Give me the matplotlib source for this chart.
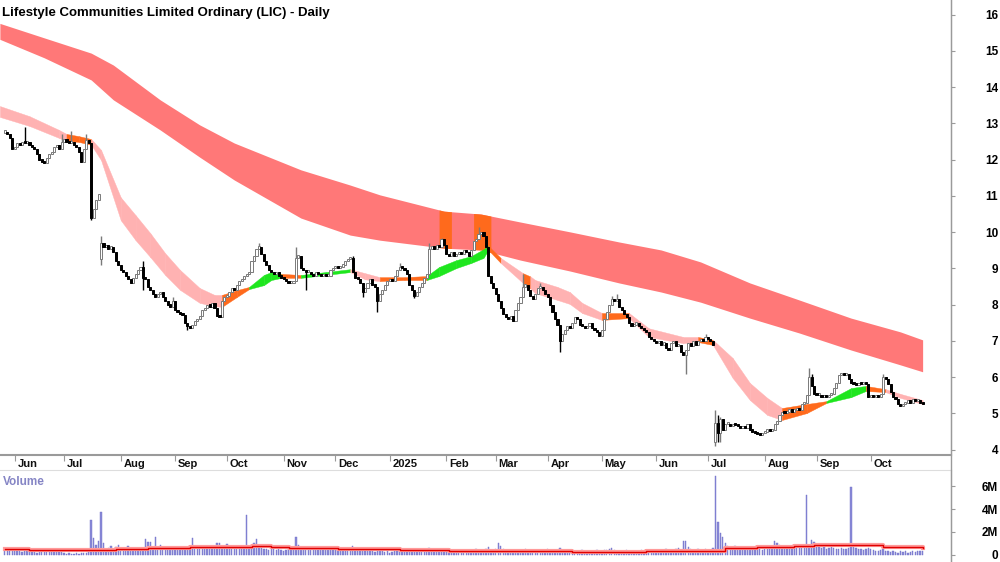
import numpy as np
import pandas as pd
import matplotlib
matplotlib.use("Agg")
import matplotlib.pyplot as plt
from matplotlib.lines import Line2D

plt.rcParams["font.family"] = ["Liberation Sans", "DejaVu Sans"]
plt.rcParams["font.weight"] = "bold"

title = "Lifestyle Communities Limited Ordinary (LIC) - Daily"
dates = pd.bdate_range("2024-05-28", "2025-10-30")

# daily closes
closes = [
    12.75, 12.7, 12.6, 12.3, 12.35, 12.45, 12.4, 12.5, 12.45, 12.5,
    12.4, 12.35, 12.3, 12.15, 12.0, 11.95, 11.9, 12.05, 12.15, 12.2,
    12.35, 12.4, 12.3, 12.5, 12.55, 12.5, 12.45, 12.5, 12.4, 12.35,
    12.2, 11.95, 12.3, 12.55, 12.45, 10.4, 10.65, 10.9, 11.05, 9.7,
    9.6, 9.65, 9.55, 9.6, 9.45, 9.2, 9.1, 8.95, 8.9, 8.8,
    8.7, 8.6, 8.75, 8.85, 8.95, 9.05, 8.75, 8.7, 8.5, 8.4,
    8.3, 8.2, 8.3, 8.35, 8.2, 8.1, 8.0, 7.95, 8.1, 7.85,
    7.8, 7.75, 7.72, 7.5, 7.4, 7.35, 7.45, 7.55, 7.6, 7.7,
    7.85, 7.9, 8.0, 7.95, 8.05, 7.9, 7.7, 7.65, 8.1, 8.2,
    8.25, 8.35, 8.45, 8.4, 8.55, 8.65, 8.7, 8.8, 8.85, 8.9,
    9.2, 9.35, 9.55, 9.6, 9.4, 9.2, 9.1, 8.95, 8.9, 8.85,
    8.9, 8.8, 8.75, 8.7, 8.65, 8.6, 8.6, 8.65, 9.3, 9.35,
    9.0, 8.95, 8.9, 8.9, 8.85, 8.8, 8.9, 8.85, 8.8, 8.85,
    8.8, 8.8, 8.95, 9.0, 9.05, 9.0, 9.05, 9.1, 9.2, 9.25,
    9.3, 8.9, 8.75, 8.7, 8.6, 8.35, 8.45, 8.6, 8.7, 8.55,
    8.5, 8.1, 8.3, 8.4, 8.55, 8.65, 8.7, 8.65, 8.8, 8.95,
    9.05, 9.0, 8.95, 8.85, 8.55, 8.4, 8.25, 8.35, 8.5, 8.6,
    8.75, 8.85, 9.55, 9.6, 9.55, 9.65, 9.6, 9.8, 9.65, 9.4,
    9.35, 9.45, 9.35, 9.4, 9.45, 9.4, 9.5, 9.45, 9.35, 9.5,
    9.75, 9.8, 9.95, 10.0, 9.9, 9.6, 8.8, 8.6, 8.45, 8.3,
    8.1, 7.9, 7.75, 7.65, 7.6, 7.7, 7.55, 7.85, 8.05, 8.2,
    8.5, 8.55, 8.4, 8.25, 8.15, 8.3, 8.45, 8.5, 8.4, 8.3,
    8.2, 8.0, 7.8, 7.6, 7.45, 7.0, 7.2, 7.3, 7.4, 7.35,
    7.5, 7.65, 7.6, 7.45, 7.4, 7.35, 7.4, 7.5, 7.35, 7.3,
    7.25, 7.15, 7.3, 7.6, 7.8, 8.0, 8.15, 8.1, 8.15, 7.95,
    7.85, 7.75, 7.65, 7.5, 7.4, 7.45, 7.5, 7.4, 7.35, 7.3,
    7.25, 7.1, 7.05, 7.0, 6.95, 7.0, 6.9, 6.95, 6.8, 6.75,
    6.95, 7.0, 6.85, 6.9, 6.7, 6.6, 6.75, 6.95, 6.85, 7.0,
    6.9, 7.0, 7.05, 7.0, 7.1, 7.05, 7.0, 6.9, 4.75, 4.45,
    4.85, 4.55, 4.7, 4.7, 4.65, 4.7, 4.68, 4.65, 4.6, 4.62,
    4.6, 4.7, 4.55, 4.5, 4.45, 4.42, 4.4, 4.45, 4.5, 4.55,
    4.52, 4.55, 4.7, 4.8, 4.95, 5.05, 5.0, 5.05, 5.1, 5.05,
    5.1, 5.15, 5.1, 5.25, 5.3, 5.5, 6.0, 5.75, 5.55, 5.5,
    5.5, 5.45, 5.5, 5.45, 5.5, 5.55, 5.7, 5.85, 6.05, 6.1,
    6.05, 6.1, 5.95, 5.85, 5.8, 5.78, 5.85, 5.8, 5.85, 5.8,
    5.45, 5.5, 5.45, 5.5, 5.45, 5.55, 6.0, 5.95, 5.8, 5.6,
    5.45, 5.4, 5.25, 5.2, 5.25, 5.3, 5.35, 5.3, 5.4, 5.35,
    5.35, 5.3, 5.25,
]
# opens follow the previous close except on gap days
gap_opens = {39: 9.25, 288: 4.2}
# notable wicks (day index -> price)
highs = {8: 12.9, 23: 12.7, 27: 12.8, 33: 12.7, 35: 12.45, 39: 9.9, 56: 9.2,
         68: 8.2, 103: 9.7, 118: 9.6, 141: 9.35, 160: 9.15, 172: 9.7, 177: 9.85,
         192: 10.14, 210: 8.85, 217: 8.6, 246: 8.25, 248: 8.3, 284: 7.2,
         288: 5.1, 289: 4.95, 290: 4.9, 326: 6.25, 327: 6.1, 356: 6.1}
lows = {35: 10.33, 39: 9.1, 56: 8.4, 74: 7.3, 122: 8.4, 145: 8.2, 151: 7.8,
        166: 8.18, 225: 6.7, 276: 6.1, 288: 4.1, 289: 4.2, 290: 4.2}

# volume, millions
volume = [
    0.6, 0.35, 0.3, 0.5, 0.3, 0.35, 0.3, 0.25, 0.3, 0.35,
    0.3, 0.25, 0.3, 0.2, 0.3, 0.45, 0.3, 0.35, 0.3, 0.3,
    0.35, 0.3, 0.25, 0.3, 0.15, 0.1, 0.15, 0.1, 0.12, 0.15,
    0.1, 0.2, 0.15, 0.2, 0.3,
    3.0, 1.45, 0.9, 1.2, 3.75, 1.0, 0.5, 0.6, 0.8, 0.45,
    0.7, 0.9, 0.5, 0.35, 0.45, 0.8, 0.4, 0.5, 0.35, 0.6,
    0.4, 0.5, 1.35, 1.1, 1.1, 0.6, 1.6, 0.7, 0.9, 0.5,
    0.6, 0.45, 0.5, 0.6, 0.4,
    0.5, 0.45, 0.6, 0.5, 0.55, 0.5, 1.5, 0.6, 0.55, 0.5,
    0.6, 0.7, 0.5, 0.6, 0.5, 0.7, 1.0, 1.0, 0.6, 0.7,
    0.95, 0.6, 0.5, 0.7, 0.8, 0.6, 0.5, 0.6, 3.5, 0.8,
    0.7, 1.0, 1.35, 0.9, 0.6,
    0.5, 0.5, 0.4, 0.6, 0.5, 0.4, 0.5, 0.4, 0.35, 0.4,
    0.5, 0.4, 0.6, 1.6, 0.9, 0.6, 0.5, 0.6, 0.5, 0.7,
    0.5, 0.6, 0.4, 0.5, 0.45, 0.5, 0.6, 0.5, 0.4, 0.5,
    0.45, 0.4, 0.5, 0.35, 0.4,
    0.45, 0.8, 0.4, 0.35, 0.3, 0.5, 0.3, 0.4, 0.35, 0.3,
    0.25, 0.3, 0.4, 0.3, 0.25, 0.3, 0.2, 0.25, 0.3, 0.35,
    0.3, 0.4, 0.3, 0.25, 0.35, 0.3, 0.4, 0.3, 0.25, 0.3,
    0.35, 0.3, 0.6, 0.4, 0.35,
    0.3, 0.4, 0.5, 0.35, 0.3, 0.4, 0.3, 0.35, 0.3, 0.25,
    0.3, 0.4, 0.3, 0.35, 0.3, 0.4, 0.5, 0.45, 0.35, 0.4,
    0.5, 0.7, 0.45, 0.4, 0.5, 1.0, 0.8, 0.5, 0.4, 0.45,
    0.35, 0.4, 0.3, 0.35, 0.4,
    0.45, 0.5, 0.35, 0.3, 0.4, 0.3, 0.35, 0.25, 0.3, 0.35,
    0.5, 0.4, 0.35, 0.45, 0.3, 0.6, 0.4, 0.3, 0.35, 0.3,
    0.25, 0.3, 0.35, 0.3, 0.4, 0.3, 0.25, 0.3, 0.35, 0.3,
    0.4, 0.3, 0.35, 0.45, 0.4,
    0.5, 0.6, 0.4, 0.35, 0.3, 0.35, 0.3, 0.4, 0.3, 0.25,
    0.3, 0.35, 0.3, 0.4, 0.3, 0.35, 0.3, 0.35, 0.3, 0.4,
    0.35, 0.3, 0.4, 0.5, 0.35, 0.3, 0.4, 0.5, 0.6, 0.45,
    1.2, 1.25, 0.7, 0.5, 0.4,
    0.45, 0.5, 0.4, 0.45, 0.5, 0.4, 0.45, 0.6, 6.9, 2.9,
    1.9, 1.6, 1.0, 0.8, 0.7, 0.6, 0.8, 0.55, 0.6, 0.5,
    0.7, 0.6, 0.5, 0.55, 0.45, 0.6, 0.5, 0.45, 0.5, 0.6,
    0.55, 0.6, 1.2, 1.0, 0.9,
    0.7, 0.6, 0.5, 0.65, 0.55, 0.6, 0.7, 0.6, 0.8, 0.9,
    5.2, 0.9, 1.3, 1.1, 0.9, 0.7, 0.6, 0.65, 0.5, 0.6,
    0.7, 0.6, 0.55, 0.5, 0.6, 0.55, 0.5, 0.6, 5.9, 0.8,
    0.6, 0.5, 0.55, 0.45, 0.5,
    0.6, 0.5, 0.4, 0.35, 0.3, 0.4, 0.5, 0.35, 0.3, 0.25,
    0.3, 0.25, 0.2, 0.3, 0.25, 0.3, 0.2, 0.25, 0.3, 0.25,
    0.3, 0.35, 0.3,
]

# volume moving average, sampled (day index, millions)
vma_idx = [0, 10, 25, 35, 45, 58, 75, 90, 100, 108, 115, 125, 135, 148, 160,
           180, 200, 230, 260, 287, 292, 305, 320, 328, 345, 352, 356, 372]
vma = [0.54, 0.45, 0.39, 0.42, 0.5, 0.62, 0.66, 0.72, 0.76, 0.7, 0.64, 0.6,
       0.55, 0.48, 0.4, 0.32, 0.3, 0.28, 0.3, 0.35, 0.6, 0.65, 0.75, 0.85,
       0.9, 0.85, 0.7, 0.62]

# long-term band (day index, top, bottom); it runs in from before the first day
ub_idx = [-2, 16, 35, 44, 63, 79, 93, 120, 140, 152, 178, 193, 209, 229, 249,
          266, 282, 302, 322, 343, 363, 372]
ub_top = [15.76, 15.36, 14.94, 14.61, 13.65, 12.96, 12.46, 11.72, 11.30,
          11.03, 10.58, 10.50, 10.28, 10.01, 9.73, 9.51, 9.18, 8.60, 8.13,
          7.63, 7.25, 7.03]
ub_bot = [15.32, 14.81, 14.20, 13.65, 12.82, 12.07, 11.44, 10.39, 9.92, 9.78,
          9.56, 9.51, 9.23, 8.93, 8.60, 8.35, 8.07, 7.63, 7.22, 6.75, 6.34,
          6.15]
ub_orange_spans = [(176, 181), (190, 197)]

# short-term band (day index, top, bottom, state of following segment)
lb_idx = [-2, 10, 22, 25, 30, 35, 39, 47, 53, 59, 65, 71, 79, 85, 88, 94, 99,
          105, 108, 112, 120, 130, 140, 146, 152, 162, 171, 176, 183, 189,
          194, 196, 201, 210, 213, 215, 224, 229, 234, 242, 253, 261, 275,
          281, 287, 295, 302, 309, 315, 325, 333, 343, 349, 357, 363, 372]
lb_top = [13.48, 13.20, 12.82, 12.71, 12.65, 12.57, 12.27, 10.96, 10.47, 9.97,
          9.42, 8.96, 8.46, 8.27, 8.27, 8.40, 8.49, 8.82, 8.90, 8.85,
          8.82, 8.90, 8.98, 8.87, 8.76, 8.76, 8.79, 9.04, 9.23, 9.34,
          9.53, 9.62, 9.29, 8.87, 8.78, 8.68, 8.49, 8.35, 8.05, 7.77,
          7.77, 7.35, 7.11, 7.11, 7.03, 6.53, 5.84, 5.43, 5.15, 5.26,
          5.34, 5.70, 5.76, 5.67, 5.54, 5.37]
lb_bot = [13.18, 12.93, 12.60, 12.52, 12.49, 12.41, 11.99, 10.33, 9.78, 9.31,
          8.82, 8.41, 8.05, 7.96, 7.94, 8.21, 8.43, 8.54, 8.68, 8.74,
          8.74, 8.82, 8.90, 8.70, 8.65, 8.68, 8.68, 8.79, 9.01, 9.15,
          9.29, 9.51, 9.15, 8.60, 8.45, 8.32, 8.13, 8.02, 7.77, 7.58,
          7.63, 7.11, 6.94, 6.97, 6.89, 5.98, 5.37, 4.96, 4.82, 5.01,
          5.29, 5.45, 5.62, 5.59, 5.43, 5.26]
lb_state = ["p", "p", "p", "o", "o", "p", "p", "p", "p", "p", "p", "p", "p", "p",
            "o", "o", "g", "g", "g", "o", "g", "g", "p", "p", "o", "o",
            "g", "g", "g", "g", "g", "o", "p", "o", "p", "p", "p", "p", "p",
            "o", "p", "p", "p", "o", "p", "p", "p", "p", "o", "o", "g", "g",
            "o", "p", "p", "p"]

month_labels = ["Jun", "Jul", "Aug", "Sep", "Oct", "Nov", "Dec", "2025", "Feb",
                "Mar", "Apr", "May", "Jun", "Jul", "Aug", "Sep", "Oct"]
price_ticks = list(range(4, 17))
vol_ticks = [0, 2, 4, 6]
vol_labels = ["0", "2M", "4M", "6M"]

band_colors = {"p": "#FFB2B2", "o": "#FF6A1C", "g": "#1EE61E"}
UPPER = "#FF7878"
ORANGE = "#FF6A1C"
GRID = "#9A9A9A"

n = len(dates)
xs = np.arange(n)
c = np.array(closes)
o = np.r_[c[0], c[:-1]]
for k, v in gap_opens.items():
    o[k] = v
hi = np.maximum(o, c)
lo = np.minimum(o, c)
for k, v in highs.items():
    hi[k] = max(hi[k], v)
for k, v in lows.items():
    lo[k] = min(lo[k], v)

fig = plt.figure(figsize=(10, 5.62), dpi=100)
ax = fig.add_axes([0, 107 / 562, 0.951, 455 / 562])
axv = fig.add_axes([0, 0, 0.951, 92 / 562])

xlim = (-1.95, 383.5)

# long-term band
ax.fill_between(ub_idx, ub_bot, ub_top, color=UPPER, lw=0, zorder=1)
for a, b in ub_orange_spans:
    sx = np.linspace(a, b, 10)
    ax.fill_between(sx, np.interp(sx, ub_idx, ub_bot), np.interp(sx, ub_idx, ub_top),
                    color=ORANGE, lw=0, zorder=2)

# short-term band
for k in range(len(lb_idx) - 1):
    col = band_colors[lb_state[k]]
    ax.fill_between(lb_idx[k:k + 2], lb_bot[k:k + 2], lb_top[k:k + 2],
                    color=col, ec=col, lw=0.3, zorder=2)

# candles
up = c >= o
body_h = np.maximum(np.abs(c - o), 0.06)
body_b = np.minimum(o, c)
ax.vlines(xs[up], lo[up], hi[up], color="#7A7A7A", lw=1.0, zorder=3)
ax.vlines(xs[~up], lo[~up], hi[~up], color="black", lw=1.0, zorder=3)
ax.bar(xs[up], body_h[up], bottom=body_b[up], width=0.85,
       color="white", edgecolor="#7A7A7A", lw=0.7, zorder=4)
ax.bar(xs[~up], body_h[~up], bottom=body_b[~up], width=0.85,
       color="black", edgecolor="black", lw=0.7, zorder=4)

ax.set_xlim(*xlim)
ax.set_ylim(3.854, 16.405)
for s in ["top", "left"]:
    ax.spines[s].set_visible(False)
ax.spines["bottom"].set_color(GRID)
ax.spines["bottom"].set_linewidth(1.5)
ax.spines["right"].set_color(GRID)

month_pos = [i for i in range(1, n) if dates[i].month != dates[i - 1].month]
ax.set_xticks(month_pos)
ax.set_xticklabels([])
ax.tick_params(axis="x", direction="out", length=4, color=GRID)
for p, lbl in zip(month_pos, month_labels):
    ax.annotate(lbl, (p, 0), xycoords=("data", "axes fraction"), xytext=(2, -3),
                textcoords="offset points", ha="left", va="top", fontsize=8,
                fontweight="bold", color="#111111")

ax.yaxis.tick_right()
ax.set_yticks(price_ticks)
ax.set_yticklabels([str(t) for t in price_ticks])
ax.tick_params(axis="y", direction="out", length=3, color=GRID, pad=31,
               labelsize=8.5)
for t in ax.get_yticklabels():
    t.set_horizontalalignment("right")
    t.set_fontweight("bold")

# volume
axv.bar(xs, volume, width=0.55, color="#8A8AD8", edgecolor="#7070C8", lw=0.3,
        zorder=2)
axv.plot(vma_idx, vma, drawstyle="steps-post", color="#FF9A9A", lw=3, zorder=3)
axv.plot(vma_idx, vma, drawstyle="steps-post", color="#E00000", lw=1, zorder=4)
axv.set_xlim(*xlim)
axv.set_ylim(-0.62, 7.4)
axv.set_xticks([])
for s in ["bottom", "left"]:
    axv.spines[s].set_visible(False)
axv.spines["top"].set_color("#DDDDDD")
axv.spines["right"].set_color(GRID)
axv.yaxis.tick_right()
axv.set_yticks(vol_ticks)
axv.set_yticklabels(vol_labels)
axv.tick_params(axis="y", direction="out", length=3, color=GRID, pad=31,
                labelsize=8.5)
for t in axv.get_yticklabels():
    t.set_horizontalalignment("right")
    t.set_fontweight("bold")
axv.text(0.003, 0.93, "Volume", transform=axv.transAxes, ha="left", va="top",
         fontsize=8.5, fontweight="bold", color="#8585C5")

fig.add_artist(Line2D([0.951, 0.951], [0, 1], transform=fig.transFigure,
                      color=GRID, lw=1))
fig.text(0.002, 0.988, title, ha="left", va="top", fontsize=9.5,
         fontweight="bold", color="black")

fig.savefig("out.png", dpi=100, facecolor="white")
